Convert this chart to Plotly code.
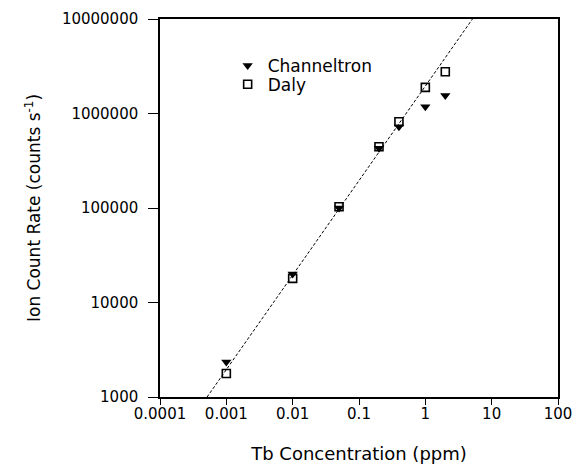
import plotly.graph_objects as go

# Data
conc = [0.001, 0.01, 0.05, 0.2, 0.4, 1, 2]
channeltron = [2350, 20000, 100000, 428000, 724000, 1180000, 1550000]
daly = [1770, 18000, 103000, 445000, 819000, 1890000, 2770000]
fit_x = [0.000513, 5.13]
fit_y = [1000, 10000000]

x_tickvals = [0.0001, 0.001, 0.01, 0.1, 1, 10, 100]
x_ticktext = ["0.0001", "0.001", "0.01", "0.1", "1", "10", "100"]
y_tickvals = [1000, 10000, 100000, 1000000, 10000000]
y_ticktext = ["1000", "10000", "100000", "1000000", "10000000"]

FONT = "DejaVu Sans"

fig = go.Figure()
fig.add_trace(go.Scatter(
    x=fit_x, y=fit_y, mode="lines",
    line=dict(color="black", width=1, dash="3px,2px"),
    showlegend=False, hoverinfo="skip"))
fig.add_trace(go.Scatter(
    x=conc, y=channeltron, mode="markers", name="Channeltron",
    legend="legend",
    marker=dict(symbol="triangle-down", size=9, color="black")))
fig.add_trace(go.Scatter(
    x=conc, y=daly, mode="markers", name="Daly",
    legend="legend2",
    marker=dict(symbol="square-open", size=8, color="black",
                line=dict(width=1.6, color="black"))))

axis_common = dict(
    showgrid=False, zeroline=False, showline=True, linecolor="black",
    linewidth=1.5, mirror=True, ticks="outside", tickwidth=1.2,
    automargin=False,
    tickcolor="black", tickfont=dict(family=FONT, size=15, color="black"))

fig.update_xaxes(type="log", range=[-4, 2], tickvals=x_tickvals,
                 ticktext=x_ticktext, ticklen=6, ticklabelstandoff=-4,
                 title=dict(text="Tb Concentration (ppm)",
                            font=dict(family=FONT, size=18, color="black"),
                            standoff=27),
                 **axis_common)
fig.update_yaxes(type="log", range=[3, 7], tickvals=y_tickvals,
                 ticktext=y_ticktext, ticklen=10, ticklabelstandoff=7,
                 title=dict(text="Ion Count Rate (counts s<sup>-1</sup>)",
                            font=dict(family=FONT, size=17, color="black"),
                            standoff=17),
                 **axis_common)

legend_common = dict(xanchor="left", yanchor="middle",
                     bgcolor="rgba(0,0,0,0)",
                     font=dict(family=FONT, size=17, color="black"))

fig.update_layout(
    width=575, height=464,
    margin=dict(l=160, r=17, t=19, b=67),
    paper_bgcolor="white", plot_bgcolor="white",
    font=dict(family=FONT, color="black"),
    legend=dict(x=0.17, y=0.876, **legend_common),
    legend2=dict(x=0.17, y=0.826, **legend_common),
)

fig.write_html(
    "out.html",
    config={"displayModeBar": False},
    post_script="document.body.style.margin='0';"
                "document.body.style.overflow='hidden';")
